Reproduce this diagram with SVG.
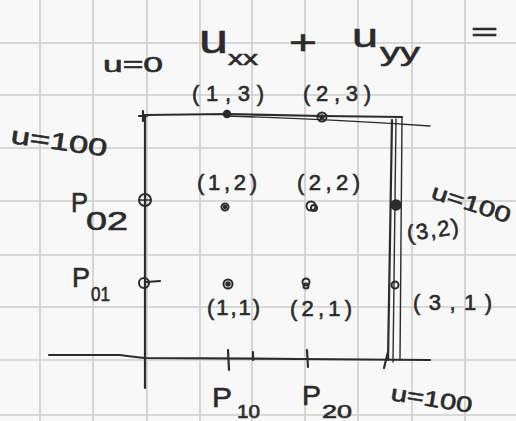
<svg xmlns="http://www.w3.org/2000/svg" width="516" height="421" viewBox="0 0 516 421">
<defs>
<style>
.grid{stroke:#cdcdcd;stroke-width:1.6;fill:none}
.ink{stroke:#2b2b2b;fill:none;stroke-linecap:round;stroke-linejoin:round}
.thin{stroke-width:1.4}
.mid{stroke-width:2.2}
.t{font-family:"Liberation Sans","DejaVu Sans",sans-serif;fill:#2b2b2b;stroke:#2b2b2b;stroke-width:0.6}
.lbl{font-size:22px}
.dot{fill:#2b2b2b;stroke:#2b2b2b;stroke-width:1.5}
.ring{fill:none;stroke:#2b2b2b;stroke-width:2}
</style>
</defs>
<rect width="516" height="421" fill="#f8f8f8"/>
<g id="grid" class="grid">
<path d="M40 0V421M93 0V421M147 0V421M200 0V421M252 0V421M305 0V421M358 0V421M412 0V421M465 0V421"/>
<path d="M0 43H516M0 95H516M0 148H516M0 201H516M0 255H516M0 307H516M0 360H516M0 415H516"/>
</g>
<g id="connectors" class="ink">
<path class="mid" d="M145 115 L145 388"/>
<path class="mid" d="M139 116 L147 116 M143 111 L143 121"/>
<path class="mid" d="M145 115 L227 114 L322 116 L402 117"/>
<path class="thin" d="M227 116 Q330 119 430 126"/>
<path class="mid" d="M392 120 L388 360"/>
<path class="thin" d="M396 119 L393 362"/>
<path class="thin" d="M402 118 L400 360"/>
<path class="mid" d="M49 355 L120 355 Q135 357 145 358 L300 359 L430 360"/>
<path class="mid" d="M228 350 L229 370 M253 352 L253 360 M307 350 L308 367 M388 352 L384 368"/>
</g>
<g id="equation" class="t">
<text x="199" y="53" font-size="40" textLength="29" lengthAdjust="spacingAndGlyphs">u</text>
<text x="228" y="65" font-size="21" textLength="30" lengthAdjust="spacingAndGlyphs">xx</text>
<text x="289" y="54" font-size="34" textLength="28" lengthAdjust="spacingAndGlyphs">+</text>
<text x="352" y="47" font-size="34" textLength="26" lengthAdjust="spacingAndGlyphs">u</text>
<text x="380" y="61" font-size="26" textLength="40" lengthAdjust="spacingAndGlyphs">yy</text>
<text x="471" y="40" font-size="26" textLength="27" lengthAdjust="spacingAndGlyphs">=</text>
</g>
<g id="bc-top" class="t"><text x="103" y="72" font-size="22" textLength="60" lengthAdjust="spacingAndGlyphs">u=0</text></g>
<g id="bc-left" class="t"><text x="10" y="143" font-size="24" textLength="97" lengthAdjust="spacingAndGlyphs" transform="rotate(8 10 143)">u=100</text></g>
<g id="bc-right" class="t"><text x="430" y="198" font-size="22" textLength="82" lengthAdjust="spacingAndGlyphs" transform="rotate(18 430 198)">u=100</text></g>
<g id="bc-bottom" class="t"><text x="390" y="400" font-size="22" textLength="82" lengthAdjust="spacingAndGlyphs" transform="rotate(9 390 400)">u=100</text></g>
<g id="n13"><circle class="dot" cx="227" cy="114" r="3.5"/><text class="t lbl" x="192" y="101" textLength="72" lengthAdjust="spacing">(1,3)</text></g>
<g id="n23"><circle class="ring" cx="322" cy="117" r="4.5"/><circle class="dot" cx="322" cy="117" r="2"/><text class="t lbl" x="303" y="101" textLength="68" lengthAdjust="spacing">(2,3)</text></g>
<g id="n12"><circle class="ring" cx="225" cy="207" r="3.5"/><circle class="dot" cx="225" cy="207" r="1.5"/><text class="t lbl" x="197" y="190" textLength="60" lengthAdjust="spacing">(1,2)</text></g>
<g id="n22"><circle class="ring" cx="311" cy="206" r="4.5"/><circle class="ring" cx="314" cy="208" r="3"/><text class="t lbl" x="297" y="190" textLength="63" lengthAdjust="spacing">(2,2)</text></g>
<g id="n32"><circle class="dot" cx="396" cy="205" r="5"/><text class="t lbl" x="408" y="241" textLength="52" lengthAdjust="spacing" transform="rotate(-8 408 241)">(3,2)</text></g>
<g id="n11"><circle class="ring" cx="228" cy="284" r="4.5"/><circle class="dot" cx="228" cy="284" r="2"/><text class="t lbl" x="207" y="315" textLength="53" lengthAdjust="spacing">(1,1)</text></g>
<g id="n21"><circle class="ring" cx="306" cy="282" r="3.5"/><circle class="ring" cx="306" cy="286" r="2.5"/><text class="t lbl" x="290" y="316" textLength="62" lengthAdjust="spacing">(2,1)</text></g>
<g id="n31"><circle class="ring" cx="395" cy="285" r="3.5"/><text class="t lbl" x="413" y="310" textLength="79" lengthAdjust="spacing">(3,1)</text></g>
<g id="P02"><circle class="ring" cx="145" cy="200" r="6"/><path class="ink thin" d="M139 200H151M145 194V206"/><text class="t" x="71" y="212" font-size="28" textLength="17" lengthAdjust="spacingAndGlyphs">P</text><text class="t" x="86" y="230" font-size="26" textLength="42" lengthAdjust="spacingAndGlyphs">02</text></g>
<g id="P01"><circle class="ring" cx="144" cy="283" r="5"/><path class="ink mid" d="M147 282L160 281"/><text class="t" x="72" y="287" font-size="28" textLength="18" lengthAdjust="spacingAndGlyphs">P</text><text class="t" x="91" y="301" font-size="20" textLength="19" lengthAdjust="spacingAndGlyphs">01</text></g>
<g id="P10"><text class="t" x="212" y="407" font-size="28" textLength="20" lengthAdjust="spacingAndGlyphs">P</text><text class="t" x="237" y="418" font-size="18" textLength="23" lengthAdjust="spacingAndGlyphs">10</text></g>
<g id="P20"><text class="t" x="302" y="405" font-size="28" textLength="19" lengthAdjust="spacingAndGlyphs">P</text><text class="t" x="322" y="418" font-size="18" textLength="30" lengthAdjust="spacingAndGlyphs">20</text></g>
</svg>
